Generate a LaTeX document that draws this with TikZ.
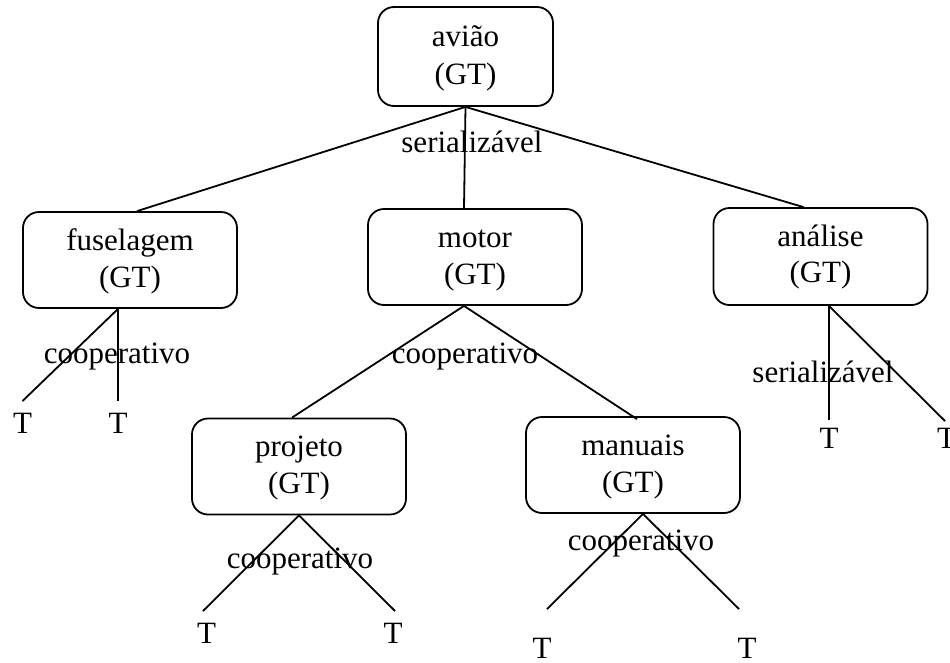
\documentclass[tikz,border=0pt]{standalone}
\usepackage{fontspec}
\setmainfont{Liberation Serif}
\begin{document}
\begin{tikzpicture}[x=1pt,y=-1pt,
  every node/.style={font=\fontsize{31}{37}\selectfont},
  gtbox/.style={draw, line width=1.8pt, rounded corners=16pt,
    inner sep=0pt, minimum width=214pt, minimum height=96pt},
  word/.style={inner sep=0pt, anchor=base},
  leaf/.style={inner sep=0pt, text height=20.5pt, text depth=0pt, anchor=north},
  kind/.style={inner sep=0pt, anchor=base},
  link/.style={line width=1.8pt}]
\useasboundingbox (0,0) rectangle (950,662);

% group transactions (boxes)
\node[gtbox, minimum width=175pt, minimum height=99pt] (aviao) at (465.5,56.5) {};
\node[gtbox] (fus) at (130,260) {};
\node[gtbox] (mot) at (475,257) {};
\node[gtbox, minimum height=97pt] (ana) at (820.5,256.5) {};
\node[gtbox] (proj) at (299,466.5) {};
\node[gtbox] (man) at (633,465) {};

% box texts: name on the first line, (GT) on the second
\node[word] (aviao-a) at ([yshift=10pt]aviao.center) {avião};
\node[word] (aviao-b) at ([yshift=-28pt]aviao.center) {(GT)};
\node[word] (fus-a) at ([yshift=10pt]fus.center) {fuselagem};
\node[word] (fus-b) at ([yshift=-27pt]fus.center) {(GT)};
\node[word] (mot-a) at ([yshift=10pt]mot.center) {motor};
\node[word] (mot-b) at ([yshift=-27pt]mot.center) {(GT)};
\node[word] (ana-a) at ([yshift=10pt]ana.center) {análise};
\node[word] (ana-b) at ([yshift=-26pt]ana.center) {(GT)};
\node[word] (proj-a) at ([yshift=10pt]proj.center) {projeto};
\node[word] (proj-b) at ([yshift=-27pt]proj.center) {(GT)};
\node[word] (man-a) at ([yshift=10pt]man.center) {manuais};
\node[word] (man-b) at ([yshift=-27pt]man.center) {(GT)};

% leaf transactions
\node[leaf] (tf1) at (22.5,413) {T};
\node[leaf] (tf2) at (118,413) {T};
\node[leaf] (tp1) at (206.5,623) {T};
\node[leaf] (tp2) at (393,623) {T};
\node[leaf] (tn1) at (542,638) {T};
\node[leaf] (tn2) at (747,638) {T};
\node[leaf] (ta1) at (829,428) {T};
\node[leaf] (ta2) at (946.5,428) {T};

% edges
\draw[link] (aviao.south) -- ([xshift=7pt]fus.north);
\draw[link] (aviao.south) -- ([xshift=-11pt]mot.north);
\draw[link] (aviao.south) -- ([xshift=-17pt]ana.north);

\draw[link] ([xshift=-12pt]fus.south) -- ([yshift=12pt]tf1.north);
\draw[link] ([xshift=-12pt]fus.south) -- ([yshift=12pt]tf2.north);

\draw[link] ([xshift=-11pt]mot.south) -- ([xshift=-7pt]proj.north);
\draw[link] ([xshift=-11pt]mot.south) -- ([xshift=4pt,yshift=-3pt]man.north);

\draw[link] (proj.south) -- ([xshift=-3.5pt,yshift=12pt]tp1.north);
\draw[link] (proj.south) -- ([xshift=2pt,yshift=12pt]tp2.north);

\draw[link] ([xshift=10pt]man.south) -- ([xshift=5pt,yshift=29pt]tn1.north);
\draw[link] ([xshift=10pt]man.south) -- ([xshift=-8pt,yshift=29pt]tn2.north);

\draw[link] ([xshift=8.5pt]ana.south) -- ([yshift=8pt]ta1.north);
\draw[link] ([xshift=8.5pt]ana.south) -- ([xshift=-1.5pt,yshift=7pt]ta2.north);

% coordination kinds
\node[kind] (kav) at (472,152) {serializável};
\node[kind] (kfus) at (117,363) {cooperativo};
\node[kind] (kmot) at (465,363) {cooperativo};
\node[kind] (kproj) at (300,568) {cooperativo};
\node[kind] (kman) at (641,550) {cooperativo};
\node[kind] (kana) at (823,382) {serializável};
\end{tikzpicture}
\end{document}
